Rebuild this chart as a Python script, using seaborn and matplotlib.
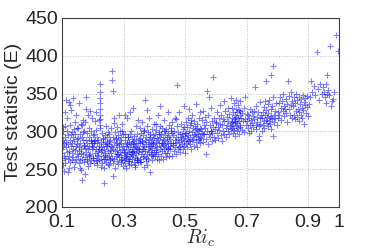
import seaborn as sns
import pandas as pd
import matplotlib.pyplot as plt

# critical Richardson number vs test statistic
ri_c = [
    # 0.10 - 0.15
    0.101,0.102,0.101,0.103,0.100,0.104,0.102,0.101,0.105,0.103,
    0.107,0.106,0.109,0.108,0.111,0.112,0.110,0.114,0.113,0.116,
    0.115,0.118,0.117,0.119,0.121,0.120,0.123,0.122,0.125,0.124,
    0.126,0.128,0.127,0.130,0.129,0.131,0.133,0.132,0.135,0.134,
    0.136,0.138,0.137,0.140,0.139,0.141,0.143,0.142,0.145,0.144,
    0.146,0.148,0.147,0.149,0.150,0.118,0.125,0.133,0.108,0.141,
    # 0.15 - 0.20
    0.151,0.152,0.153,0.154,0.155,0.156,0.157,0.158,0.159,0.160,
    0.161,0.162,0.163,0.164,0.165,0.166,0.167,0.168,0.169,0.170,
    0.171,0.172,0.173,0.174,0.175,0.176,0.177,0.178,0.179,0.180,
    0.181,0.182,0.183,0.184,0.185,0.186,0.187,0.188,0.189,0.190,
    0.191,0.192,0.193,0.194,0.195,0.196,0.197,0.198,0.199,0.200,
    0.158,0.164,0.171,0.178,0.186,0.193,0.155,0.168,0.182,0.196,
    # 0.20 - 0.25
    0.201,0.202,0.203,0.204,0.205,0.206,0.207,0.208,0.209,0.210,
    0.211,0.212,0.213,0.214,0.215,0.216,0.217,0.218,0.219,0.220,
    0.221,0.222,0.222,0.222,0.223,0.222,0.223,0.224,0.225,0.226,
    0.227,0.228,0.229,0.230,0.231,0.232,0.233,0.234,0.235,0.236,
    0.237,0.238,0.239,0.240,0.241,0.242,0.243,0.244,0.245,0.246,
    0.247,0.248,0.249,0.250,0.205,0.213,0.219,0.227,0.233,0.241,
    0.209,0.236,0.246,0.222,0.224,
    # 0.25 - 0.30
    0.251,0.252,0.253,0.254,0.255,0.256,0.257,0.258,0.259,0.263,
    0.262,0.264,0.264,0.260,0.261,0.265,0.266,0.267,0.268,0.269,
    0.270,0.271,0.272,0.273,0.274,0.275,0.276,0.277,0.278,0.279,
    0.280,0.281,0.282,0.283,0.284,0.285,0.286,0.287,0.288,0.289,
    0.290,0.291,0.292,0.293,0.294,0.295,0.296,0.297,0.298,0.299,
    0.300,0.253,0.257,0.262,0.268,0.274,0.279,0.285,0.291,0.296,
    # 0.30 - 0.35
    0.301,0.302,0.303,0.304,0.305,0.306,0.307,0.308,0.309,0.310,
    0.311,0.312,0.313,0.314,0.315,0.316,0.317,0.318,0.319,0.320,
    0.321,0.322,0.323,0.324,0.325,0.326,0.327,0.328,0.329,0.330,
    0.331,0.332,0.333,0.334,0.335,0.336,0.337,0.338,0.339,0.340,
    0.341,0.342,0.343,0.344,0.345,0.346,0.347,0.348,0.349,0.350,
    0.303,0.308,0.312,0.317,0.322,0.327,0.331,0.336,0.341,0.346,
    0.305,0.314,0.324,0.333,0.343,
    # 0.35 - 0.40
    0.351,0.352,0.353,0.354,0.355,0.356,0.357,0.358,0.359,0.360,
    0.361,0.362,0.363,0.364,0.365,0.366,0.367,0.368,0.369,0.370,
    0.371,0.372,0.373,0.374,0.375,0.376,0.377,0.378,0.379,0.380,
    0.381,0.382,0.383,0.384,0.385,0.386,0.387,0.388,0.389,0.390,
    0.391,0.392,0.393,0.394,0.395,0.396,0.397,0.398,0.399,0.400,
    0.354,0.359,0.363,0.368,0.372,0.377,0.382,0.386,0.391,0.396,
    # 0.40 - 0.45
    0.401,0.402,0.403,0.404,0.405,0.406,0.407,0.408,0.409,0.410,
    0.411,0.412,0.413,0.414,0.415,0.416,0.417,0.418,0.419,0.420,
    0.421,0.422,0.423,0.424,0.425,0.426,0.427,0.428,0.429,0.430,
    0.431,0.432,0.433,0.434,0.435,0.436,0.437,0.438,0.439,0.440,
    0.441,0.442,0.443,0.444,0.445,0.446,0.447,0.448,0.449,0.450,
    0.405,0.415,0.425,0.435,0.445,
    # 0.45 - 0.50
    0.451,0.452,0.453,0.455,0.456,0.457,0.459,0.460,0.462,0.475,
    0.463,0.464,0.466,0.467,0.468,0.470,0.471,0.472,0.474,0.476,
    0.477,0.478,0.480,0.481,0.482,0.484,0.485,0.486,0.488,0.489,
    0.490,0.492,0.493,0.494,0.496,0.497,0.498,0.499,0.500,0.454,
    0.461,0.469,0.479,0.487,0.495,
    # 0.50 - 0.55
    0.501,0.502,0.503,0.505,0.506,0.507,0.509,0.510,0.512,0.514,
    0.513,0.515,0.516,0.517,0.518,0.520,0.521,0.522,0.524,0.526,
    0.527,0.528,0.530,0.531,0.532,0.534,0.535,0.536,0.538,0.539,
    0.540,0.542,0.543,0.544,0.546,0.547,0.548,0.549,0.550,0.504,
    0.511,0.519,0.529,0.537,0.545,
    # 0.55 - 0.60
    0.551,0.553,0.554,0.556,0.557,0.559,0.561,0.567,0.572,0.578,
    0.562,0.564,0.565,0.568,0.569,0.571,0.574,0.575,0.577,0.580,
    0.581,0.583,0.584,0.586,0.592,0.587,0.589,0.590,0.593,0.595,
    0.596,0.598,0.600,0.558,0.585,
    # 0.60 - 0.65
    0.601,0.603,0.604,0.606,0.608,0.609,0.611,0.612,0.614,0.616,
    0.617,0.619,0.620,0.622,0.624,0.625,0.627,0.628,0.630,0.632,
    0.633,0.635,0.636,0.638,0.640,0.641,0.643,0.644,0.646,0.648,
    0.649,0.650,
    # 0.65 - 0.70
    0.651,0.652,0.653,0.654,0.655,0.656,0.657,0.658,0.659,0.660,
    0.661,0.662,0.663,0.664,0.665,0.666,0.667,0.668,0.669,0.670,
    0.671,0.672,0.673,0.674,0.675,0.676,0.677,0.678,0.679,0.680,
    0.682,0.684,0.686,0.688,0.690,0.692,0.694,0.696,0.698,0.700,
    0.663,0.677,
    # 0.70 - 0.75
    0.702,0.703,0.705,0.707,0.708,0.710,0.712,0.727,0.714,0.715,
    0.717,0.719,0.720,0.740,0.741,0.722,0.724,0.725,0.729,0.730,
    0.732,0.734,0.735,0.737,0.739,0.742,0.744,0.745,0.747,0.749,
    # 0.75 - 0.80
    0.751,0.752,0.754,0.755,0.763,0.757,0.758,0.760,0.761,0.762,
    0.780,0.764,0.765,0.785,0.767,0.785,0.768,0.770,0.771,0.772,
    0.774,0.775,0.777,0.778,0.779,0.781,0.782,0.784,0.787,0.788,
    0.790,0.792,0.794,0.796,0.798,
    # 0.80 - 0.85
    0.801,0.803,0.805,0.807,0.809,0.811,0.813,0.815,0.817,0.819,
    0.821,0.823,0.835,0.825,0.827,0.829,0.831,0.833,0.837,0.839,
    0.841,0.843,0.845,0.847,0.849,
    # 0.85 - 0.90
    0.851,0.853,0.855,0.856,0.858,0.860,0.862,0.863,0.865,0.867,
    0.869,0.870,0.872,0.874,0.876,0.877,0.879,0.881,0.883,0.884,
    0.886,0.888,0.890,0.891,0.893,0.895,0.897,0.899,
    # 0.90 - 0.95
    0.902,0.906,0.910,0.914,0.918,0.928,0.922,0.932,0.936,0.940,
    0.944,0.948,
    # 0.95 - 1.00
    0.960,0.952,0.955,0.958,0.962,0.971,0.990,0.975,0.978,0.998,
    0.965,0.968,0.957,0.982,0.985,
]

stat = [
    # 0.10 - 0.15
    262,281,297,306,271,289,255,276,268,301,
    284,248,292,265,307,279,258,341,286,272,
    300,263,318,283,251,295,274,339,288,267,
    309,280,259,296,328,271,285,262,344,292,
    277,303,266,287,253,312,275,297,281,264,
    322,290,270,305,283,246,335,299,325,260,
    # 0.15 - 0.20
    291,268,304,258,279,337,262,296,284,271,
    249,310,277,263,293,236,288,270,315,259,
    282,300,266,243,278,312,289,346,273,261,
    298,285,254,321,276,292,267,305,281,258,
    327,270,289,262,301,276,318,284,265,295,
    252,308,281,330,269,287,274,299,263,280,
    # 0.20 - 0.25
    279,265,297,284,258,271,313,288,262,276,
    302,269,285,256,293,274,267,289,315,280,
    262,321,338,352,309,329,344,363,272,286,
    264,279,298,258,275,291,268,283,252,277,
    232,295,263,286,271,307,260,280,293,266,
    284,257,274,299,287,261,276,253,290,269,
    325,264,281,305,316,
    # 0.25 - 0.30
    268,283,256,296,275,262,289,304,271,380,
    368,353,241,280,265,293,258,277,311,286,
    263,274,299,252,282,268,290,275,261,306,
    284,270,295,257,279,322,266,288,273,301,
    259,284,269,292,276,263,310,281,254,297,
    272,287,264,279,318,291,270,283,262,300,
    # 0.30 - 0.35
    262,275,288,258,271,296,265,280,252,284,
    270,318,261,277,292,256,273,286,264,325,
    279,268,301,257,283,272,290,263,276,331,
    269,285,259,294,274,266,281,253,288,271,
    307,262,278,296,265,284,272,259,290,276,
    322,268,283,261,297,274,287,256,279,315,
    266,292,270,283,262,
    # 0.35 - 0.40
    276,291,263,305,284,270,298,259,287,274,
    312,266,281,295,253,279,302,268,289,341,
    274,261,293,283,270,307,256,286,277,299,
    264,290,272,318,281,246,296,269,285,275,
    303,262,288,278,295,267,283,310,273,291,
    260,286,276,300,265,328,280,292,270,284,
    # 0.40 - 0.45
    281,297,268,310,286,275,302,263,291,279,
    322,270,288,299,262,284,307,276,293,333,
    281,268,297,285,274,305,290,263,282,300,
    276,315,288,271,295,283,266,303,279,292,
    271,287,325,276,298,284,267,292,309,280,
    273,296,285,301,278,
    # 0.45 - 0.50
    290,276,305,285,298,268,312,282,295,361,
    274,301,288,279,318,293,270,284,307,290,
    277,299,286,325,281,296,272,289,310,283,
    297,276,303,291,280,334,287,294,271,300,
    285,316,279,292,306,
    # 0.50 - 0.55
    298,285,312,290,306,279,318,295,287,330,
    301,283,309,292,276,315,299,288,321,304,
    290,313,281,297,307,286,336,294,302,279,
    310,296,289,317,300,284,305,293,326,298,
    287,311,295,303,290,
    # 0.55 - 0.60
    303,291,315,298,327,286,308,270,354,346,
    296,319,305,290,312,300,283,322,296,309,
    292,331,301,287,372,314,298,306,293,318,
    303,288,311,297,300,
    # 0.60 - 0.65
    312,298,325,306,291,318,302,335,310,295,
    322,287,308,316,300,340,313,297,327,305,
    292,319,309,301,331,314,296,323,307,344,
    311,303,
    # 0.65 - 0.70
    318,305,331,312,298,325,309,338,316,302,
    322,294,314,329,307,342,319,300,326,311,
    335,304,317,296,328,313,306,321,340,309,
    318,302,324,314,331,299,345,316,308,323,
    312,327,
    # 0.70 - 0.75
    313,305,322,298,318,330,308,358,315,301,
    325,311,320,294,289,306,327,316,309,334,
    303,319,312,326,307,317,339,310,321,300,
    # 0.75 - 0.80
    318,309,326,313,366,332,305,321,340,315,
    375,328,311,386,319,294,336,307,324,314,
    342,317,310,329,320,303,334,316,345,322,
    312,327,318,338,308,
    # 0.80 - 0.85
    326,318,338,322,345,331,315,340,327,350,
    320,334,367,329,343,324,336,312,347,330,
    321,352,335,318,340,
    # 0.85 - 0.90
    334,322,345,316,338,327,350,319,341,330,
    325,313,346,336,321,343,331,318,348,328,
    339,310,335,344,324,332,347,320,
    # 0.90 - 0.95
    336,345,367,352,360,405,348,356,341,363,
    350,358,
    # 0.95 - 1.00
    375,352,345,338,350,413,428,333,340,406,
    355,348,362,343,352,
]

x_ticks = [0.1, 0.3, 0.5, 0.7, 0.9, 1.0]
x_tick_labels = ['0.1', '0.3', '0.5', '0.7', '0.9', '1']
y_ticks = [200, 250, 300, 350, 400, 450]

df = pd.DataFrame({'ri_c': ri_c, 'stat': stat})

sns.set_style('white')
plt.rcParams['font.family'] = ['Liberation Sans', 'DejaVu Sans']
plt.rcParams['mathtext.fontset'] = 'cm'

fig = plt.figure(figsize=(3.74, 2.49), dpi=100)
ax = fig.add_axes([0.166, 0.169, 0.740, 0.759])

sns.scatterplot(x='ri_c', y='stat', data=df, ax=ax, marker='+', s=22,
                color='blue', alpha=0.5, linewidth=0.8)

ax.set_xlim(0.1, 1.0)
ax.set_ylim(200, 450)
ax.set_xticks(x_ticks)
ax.set_xticklabels(x_tick_labels)
ax.set_yticks(y_ticks)
ax.grid(True, linestyle=':', color='#c0c0c0', linewidth=0.7)
ax.tick_params(direction='in', length=3, labelsize=14, pad=3)
ax.tick_params(axis='x', pad=5)
for s in ax.spines.values():
    s.set_color('#404040')
    s.set_linewidth(0.8)

ax.set_xlabel('$Ri_c$', fontsize=14, labelpad=-2)
ax.set_ylabel('Test statistic (E)', fontsize=14, labelpad=2)

fig.savefig('out.png', dpi=100)
